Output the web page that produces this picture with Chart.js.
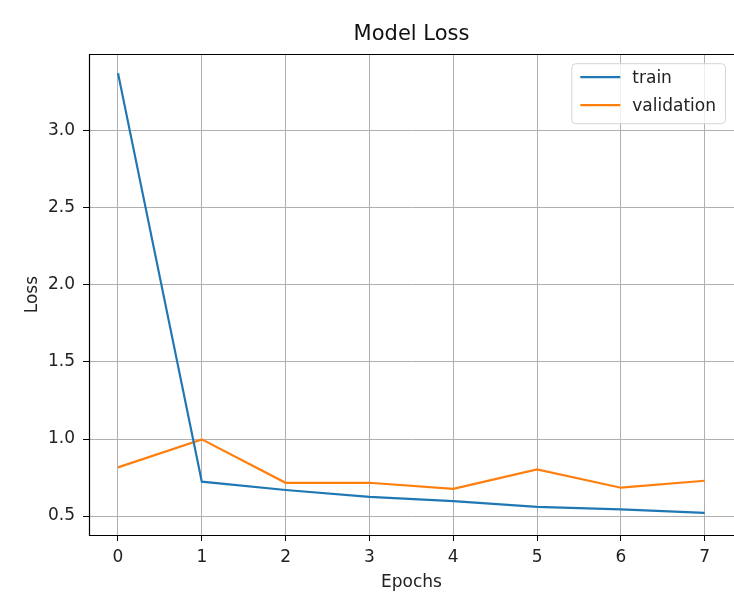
<!DOCTYPE html>
<html>
<head>
<meta charset="utf-8">
<script src="https://cdn.jsdelivr.net/npm/chart.js@4"></script>
<style>
  body { margin: 0; background: #fff; }
  #wrap { width: 734px; height: 593px; }
</style>
</head>
<body>
<div id="wrap"><canvas id="grafico" width="734" height="593"></canvas></div>
<script>
// Dados
const epocas = [0, 1, 2, 3, 4, 5, 6, 7];
const lossTrain = [3.375, 0.723, 0.669, 0.625, 0.597, 0.560, 0.543, 0.520];
const lossValidation = [0.816, 0.998, 0.716, 0.716, 0.677, 0.803, 0.684, 0.729];
const ticksX = [0, 1, 2, 3, 4, 5, 6, 7];
const ticksY = [0.5, 1.0, 1.5, 2.0, 2.5, 3.0];

const fonte = 'DejaVu Sans';
const graficoEl = document.getElementById('grafico');

// Moldura preta (a borda direita fica fora da imagem)
const moldura = {
  id: 'moldura',
  afterDraw(chart) {
    const { ctx, chartArea: a } = chart;
    const l = Math.round(a.left) + 0.5;
    const t = Math.round(a.top) + 0.5;
    const b = Math.round(a.bottom) + 0.5;
    ctx.save();
    ctx.strokeStyle = '#000';
    ctx.lineWidth = 1.2;
    ctx.beginPath();
    ctx.moveTo(chart.width, t);
    ctx.lineTo(l, t);
    ctx.lineTo(l, b);
    ctx.lineTo(chart.width, b);
    ctx.stroke();
    ctx.restore();
  }
};

// Legenda dentro da área, canto superior direito
const legendaInterna = {
  id: 'legendaInterna',
  afterDraw(chart) {
    const { ctx, chartArea: a } = chart;
    const sets = chart.data.datasets;
    ctx.save();
    ctx.font = '17px "' + fonte + '"';
    let maxW = 0;
    sets.forEach(d => { maxW = Math.max(maxW, ctx.measureText(d.label).width); });
    const w = 9 + 40 + 12 + maxW + 9;
    const h = 60;
    const x = a.right - 9 - w;
    const y = a.top + 9;
    ctx.beginPath();
    ctx.roundRect(x + 0.5, y + 0.5, w, h, 4);
    ctx.fillStyle = 'rgba(255,255,255,0.8)';
    ctx.fill();
    ctx.strokeStyle = '#d6d6d6';
    ctx.lineWidth = 1;
    ctx.stroke();
    sets.forEach((d, i) => {
      const ly = y + 14 + i * 28;
      ctx.beginPath();
      ctx.moveTo(x + 9, ly);
      ctx.lineTo(x + 49, ly);
      ctx.strokeStyle = d.borderColor;
      ctx.lineWidth = 2.2;
      ctx.stroke();
      ctx.fillStyle = '#222';
      ctx.textBaseline = 'middle';
      ctx.fillText(d.label, x + 61, ly + 1);
    });
    ctx.restore();
  }
};

new Chart(graficoEl, {
  type: 'line',
  data: {
    datasets: [
      {
        label: 'train',
        data: epocas.map((e, i) => ({ x: e, y: lossTrain[i] })),
        borderColor: '#1f77b4',
        borderWidth: 2.2,
        pointRadius: 0,
        tension: 0
      },
      {
        label: 'validation',
        data: epocas.map((e, i) => ({ x: e, y: lossValidation[i] })),
        borderColor: '#ff7f0e',
        borderWidth: 2.2,
        pointRadius: 0,
        tension: 0
      }
    ]
  },
  options: {
    responsive: false,
    animation: false,
    layout: { padding: 0 },
    plugins: {
      legend: { display: false },
      tooltip: { enabled: false },
      title: {
        display: true,
        text: 'Model Loss',
        fullSize: false,
        color: '#111',
        font: { family: fonte, size: 21, weight: 'normal' },
        padding: { top: 22, bottom: 7 }
      }
    },
    scales: {
      x: {
        type: 'linear',
        min: -0.346,
        max: 7.35,
        afterBuildTicks: s => { s.ticks = ticksX.map(v => ({ value: v })); },
        afterFit: s => { s.height = 58; },
        grid: { color: '#b0b0b0', lineWidth: 1, tickColor: '#000', tickLength: 6 },
        border: { display: false },
        ticks: { color: '#222', font: { family: fonte, size: 17 }, padding: 6, maxRotation: 0 },
        title: {
          display: true, text: 'Epochs', color: '#222',
          font: { family: fonte, size: 17 }, padding: { top: 0, bottom: 0 }
        }
      },
      y: {
        type: 'linear',
        min: 0.377,
        max: 3.498,
        afterBuildTicks: s => { s.ticks = ticksY.map(v => ({ value: v })); },
        afterFit: s => { s.width = 89; },
        grid: { color: '#b0b0b0', lineWidth: 1, tickColor: '#000', tickLength: 6 },
        border: { display: false },
        ticks: {
          color: '#222', font: { family: fonte, size: 17 }, padding: 8,
          callback: v => v.toFixed(1)
        },
        title: {
          display: true, text: 'Loss', color: '#222',
          font: { family: fonte, size: 17 }, padding: { top: 22, bottom: 0 }
        }
      }
    }
  },
  plugins: [moldura, legendaInterna]
});
</script>
</body>
</html>
